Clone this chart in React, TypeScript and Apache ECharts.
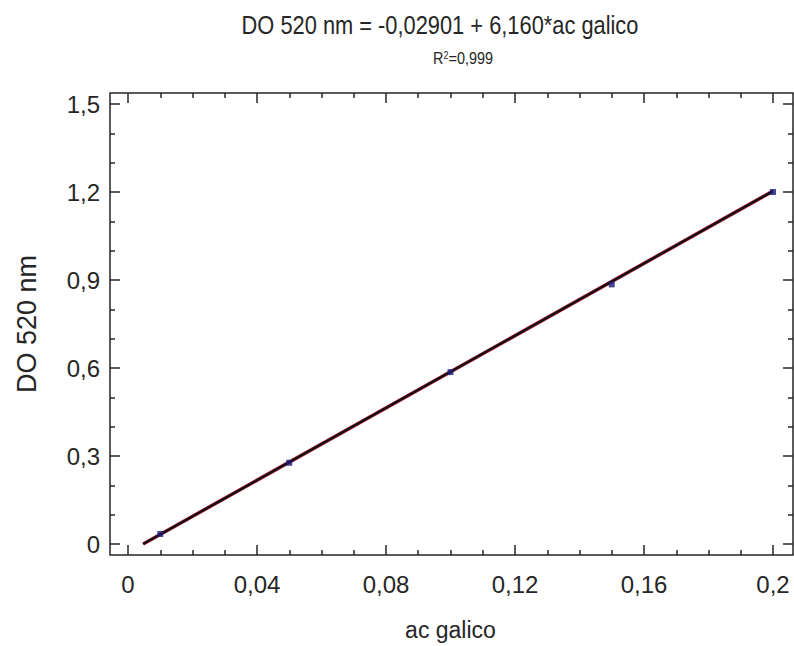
import React, { useEffect, useRef } from "react";
import * as echarts from "echarts";

// Calibration standards: gallic acid concentration vs optical density at 520 nm
const concentrations = [0.01, 0.05, 0.1, 0.15, 0.2];
const absorbances = [0.034, 0.277, 0.586, 0.885, 1.2];

// Fitted regression line end points (DO = -0,02901 + 6,160 * ac galico)
const fitX = [0.0047, 0.2];
const fitY = [0.0, 1.203];

// Axis tick values
const xTicks = [0, 0.04, 0.08, 0.12, 0.16, 0.2];
const yTicks = [0, 0.3, 0.6, 0.9, 1.2, 1.5];

const titleText = "DO 520 nm = -0,02901 + 6,160*ac galico";
const r2Value = "0,999";
const xName = "ac galico";
const yName = "DO 520 nm";

const FONT = '"Liberation Sans", Arial, Helvetica, sans-serif';
const INK = "#262626";

const comma = (v: number) => String(+v.toFixed(3)).replace(".", ",");

export default function App() {
  const ref = useRef<HTMLDivElement>(null);

  useEffect(() => {
    if (!ref.current) return;
    const chart = echarts.init(ref.current, undefined, { renderer: "svg" });

    const tickLine = { color: INK, width: 1.5 };
    const xBase = {
      type: "value" as const,
      min: xTicks[0],
      max: xTicks[xTicks.length - 1],
      interval: xTicks[1] - xTicks[0],
      splitLine: { show: false },
      axisLine: { show: false, onZero: false },
      axisTick: { show: true, inside: true, length: 10, lineStyle: tickLine },
      minorTick: { show: true, splitNumber: 4, length: 5, lineStyle: tickLine },
    };
    const yBase = {
      type: "value" as const,
      min: yTicks[0],
      max: yTicks[yTicks.length - 1],
      interval: yTicks[1] - yTicks[0],
      splitLine: { show: false },
      axisLine: { show: false, onZero: false },
      axisTick: { show: true, inside: true, length: 10, lineStyle: tickLine },
      minorTick: { show: true, splitNumber: 3, length: 5, lineStyle: tickLine },
    };

    chart.setOption({
      animation: false,
      backgroundColor: "#ffffff",
      grid: { left: 128, right: 21, top: 104, bottom: 102, containLabel: false, outerBoundsMode: "none" },
      xAxis: [
        {
          ...xBase,
          position: "bottom",
          offset: 11,
          name: xName,
          nameLocation: "middle",
          nameGap: 63,
          nameTextStyle: { fontFamily: FONT, fontSize: 23, color: INK },
          axisLabel: {
            show: true,
            margin: 17,
            fontFamily: FONT,
            fontSize: 24,
            color: INK,
            formatter: comma,
          },
        },
        {
          ...xBase,
          position: "top",
          offset: 11,
          axisLabel: { show: false },
        },
      ],
      yAxis: [
        {
          ...yBase,
          position: "left",
          offset: 18,
          name: yName,
          nameLocation: "middle",
          nameGap: 70,
          nameTextStyle: { fontFamily: FONT, fontSize: 27, color: INK },
          axisLabel: {
            show: true,
            margin: 10,
            fontFamily: FONT,
            fontSize: 24,
            color: INK,
            formatter: comma,
          },
        },
        {
          ...yBase,
          position: "right",
          offset: 20,
          axisLabel: { show: false },
        },
      ],
      graphic: [
        {
          type: "rect",
          shape: { x: 110, y: 93, width: 683, height: 462 },
          style: { fill: "none", stroke: INK, lineWidth: 1.5 },
          silent: true,
          z: 10,
        },
        {
          type: "text",
          x: 440,
          y: 25,
          scaleX: 0.84,
          style: {
            text: titleText,
            font: `26px ${FONT}`,
            fill: INK,
            textAlign: "center",
            textVerticalAlign: "middle",
          },
        },
        {
          type: "text",
          x: 463,
          y: 58,
          scaleX: 0.9,
          style: {
            text: `{r|R}{s|2}{r|=${r2Value}}`,
            fill: INK,
            textAlign: "center",
            textVerticalAlign: "middle",
            rich: {
              r: { fontFamily: FONT, fontSize: 16, fill: INK },
              s: { fontFamily: FONT, fontSize: 10, fill: INK, verticalAlign: "top", padding: [0, 0, 6, 0] },
            },
          },
        },
      ],
      series: [
        {
          type: "line",
          data: fitX.map((x, i) => [x, fitY[i]]),
          showSymbol: false,
          lineStyle: { color: "#c8243e", width: 3.6 },
          z: 2,
          silent: true,
        },
        {
          type: "line",
          data: fitX.map((x, i) => [x, fitY[i]]),
          showSymbol: false,
          lineStyle: { color: "#111111", width: 2.4 },
          z: 3,
          silent: true,
        },
        {
          type: "scatter",
          data: concentrations.map((x, i) => [x, absorbances[i]]),
          symbol: "rect",
          symbolSize: 6,
          itemStyle: { color: "#1c1c78" },
          z: 4,
        },
      ],
    });

    return () => chart.dispose();
  }, []);

  return (
    <div
      ref={ref}
      style={{ position: "fixed", left: 0, top: 0, width: 794, height: 646, background: "#fff" }}
    />
  );
}
